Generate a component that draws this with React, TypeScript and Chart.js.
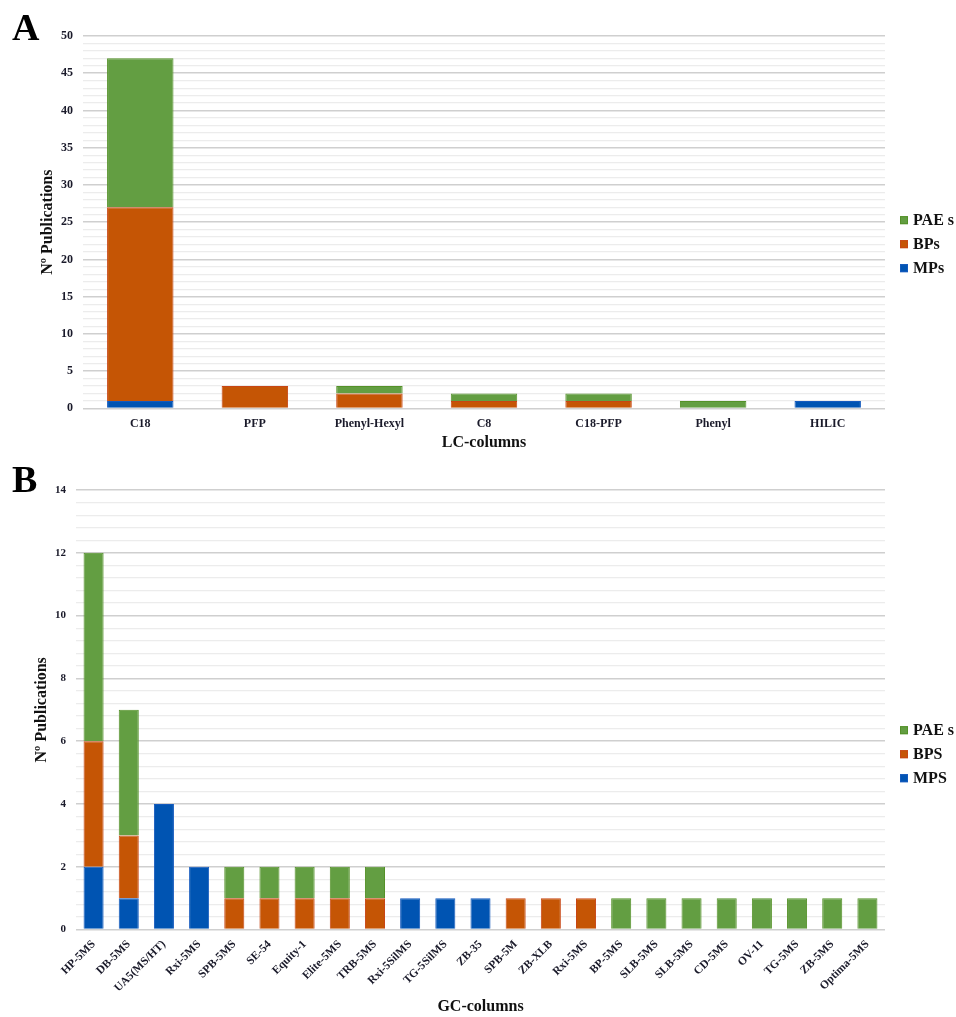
import React, { useEffect, useRef } from "react";
import { Chart, registerables } from "chart.js";

Chart.register(...registerables);

// ---- Panel A data (LC columns) ----
const lcColumns = ["C18", "PFP", "Phenyl-Hexyl", "C8", "C18-PFP", "Phenyl", "HILIC"];
const lcMPs = [1, 0, 0, 0, 0, 0, 1];
const lcBPs = [26, 3, 2, 1, 1, 0, 0];
const lcPAEs = [20, 0, 1, 1, 1, 1, 0];

// ---- Panel B data (GC columns) ----
const gcColumns = [
  "HP-5MS", "DB-5MS", "UA5(MS/HT)", "Rxi-5MS", "SPB-5MS", "SE-54", "Equity-1", "Elite-5MS",
  "TRB-5MS", "Rxi-5SilMS", "TG-5SilMS", "ZB-35", "SPB-5M", "ZB-XLB", "Rxi-5MS", "BP-5MS",
  "SLB-5MS", "SLB-5MS", "CD-5MS", "OV-11", "TG-5MS", "ZB-5MS", "Optima-5MS",
];
const gcMPS = [2, 1, 4, 2, 0, 0, 0, 0, 0, 1, 1, 1, 0, 0, 0, 0, 0, 0, 0, 0, 0, 0, 0];
const gcBPS = [4, 2, 0, 0, 1, 1, 1, 1, 1, 0, 0, 0, 1, 1, 1, 0, 0, 0, 0, 0, 0, 0, 0];
const gcPAEs = [6, 4, 0, 0, 1, 1, 1, 1, 1, 0, 0, 0, 0, 0, 0, 1, 1, 1, 1, 1, 1, 1, 1];

const GREEN = "rgb(99,158,66)";
const GREEN_B = "rgb(84,145,40)";
const ORANGE = "rgb(197,85,5)";
const ORANGE_B = "rgb(200,70,20)";
const BLUE = "rgb(0,84,178)";
const BLUE_B = "rgb(20,90,190)";
const SERIF = "'Liberation Serif', 'DejaVu Serif', serif";

// Legend drawn at the right of the plot, items in reverse dataset order.
const sideLegend = {
  id: "sideLegend",
  afterDraw(chart: any, _args: any, opts: any) {
    const { ctx, chartArea } = chart;
    const items = chart.data.datasets.map((d: any) => d).reverse();
    const cy = chartArea.top + opts.frac * (chartArea.bottom - chartArea.top);
    const gap = 24;
    const x0 = chartArea.right + 15;
    ctx.save();
    ctx.font = `bold 16px ${SERIF}`;
    ctx.textBaseline = "middle";
    items.forEach((d: any, i: number) => {
      const y = cy + (i - (items.length - 1) / 2) * gap;
      ctx.fillStyle = d.backgroundColor;
      ctx.fillRect(x0, y - 4, 8, 8);
      ctx.strokeStyle = d.borderColor;
      ctx.lineWidth = 1;
      ctx.strokeRect(x0 + 0.5, y - 3.5, 7, 7);
      ctx.fillStyle = "#111";
      ctx.fillText(d.label, x0 + 13, y + 1);
    });
    ctx.restore();
  },
};

function makeConfig(
  labels: string[],
  mp: number[],
  bp: number[],
  pae: number[],
  names: [string, string, string],
  opts: {
    max: number; step: number; major: number; xTitle: string; rotate: boolean;
    yWidth: number; padLeft: number; padTop: number; barPct: number; tickSize: number;
    xTickSize: number; legendFrac: number;
  }
): any {
  const isMajor = (v: number) => Math.abs(v / opts.major - Math.round(v / opts.major)) < 1e-6;
  return {
    type: "bar",
    plugins: [sideLegend],
    data: {
      labels,
      datasets: [
        { label: names[2], data: mp, backgroundColor: BLUE, borderColor: BLUE_B, borderWidth: 1 },
        { label: names[1], data: bp, backgroundColor: ORANGE, borderColor: ORANGE_B, borderWidth: 1 },
        { label: names[0], data: pae, backgroundColor: GREEN, borderColor: GREEN_B, borderWidth: 1 },
      ],
    },
    options: {
      animation: false,
      responsive: false,
      maintainAspectRatio: false,
      layout: { padding: { top: opts.padTop, left: opts.padLeft, right: 71, bottom: 0 } },
      datasets: { bar: { barPercentage: opts.barPct, categoryPercentage: 1 } },
      plugins: {
        tooltip: { enabled: false },
        legend: { display: false },
        sideLegend: { frac: opts.legendFrac },
      },
      scales: {
        x: {
          stacked: true,
          grid: { display: false },
          border: { display: false },
          ticks: {
            color: "#1a1a2a",
            font: { family: SERIF, size: opts.xTickSize, weight: "bold" },
            maxRotation: opts.rotate ? 45 : 0,
            minRotation: opts.rotate ? 45 : 0,
            autoSkip: false,
            padding: 0,
          },
          title: {
            display: true,
            text: opts.xTitle,
            color: "#111",
            font: { family: SERIF, size: 16, weight: "bold" },
            padding: { top: 2, bottom: 0 },
          },
        },
        y: {
          stacked: true,
          min: 0,
          max: opts.max,
          afterFit: (s: any) => {
            s.width = opts.yWidth;
          },
          border: { display: false },
          grid: {
            drawTicks: false,
            color: (ctx: any) => (isMajor(ctx.tick.value) ? "#cfcfcf" : "#ececec"),
            lineWidth: (ctx: any) => (isMajor(ctx.tick.value) ? 1.5 : 1.2),
          },
          ticks: {
            stepSize: opts.step,
            padding: 10,
            color: "#1a1a2a",
            font: { family: SERIF, size: opts.tickSize, weight: "bold" },
            callback: (v: any) => (isMajor(Number(v)) ? String(Math.round(Number(v))) : ""),
            autoSkip: false,
          },
          title: {
            display: true,
            text: "Nº Publications",
            color: "#111",
            font: { family: SERIF, size: 16, weight: "bold" },
            padding: 0,
          },
        },
      },
    },
  };
}

export default function App() {
  const refA = useRef<HTMLCanvasElement>(null);
  const refB = useRef<HTMLCanvasElement>(null);

  useEffect(() => {
    document.body.style.margin = "0";
    const a = new Chart(
      refA.current!,
      makeConfig(lcColumns, lcMPs, lcBPs, lcPAEs, ["PAE s", "BPs", "MPs"], {
        max: 50, step: 1, major: 5, xTitle: "LC-columns", rotate: false,
        yWidth: 45, padLeft: 38, padTop: 36, barPct: 0.58, tickSize: 12, xTickSize: 12, legendFrac: 0.559,
      })
    );
    const b = new Chart(
      refB.current!,
      makeConfig(gcColumns, gcMPS, gcBPS, gcPAEs, ["PAE s", "BPS", "MPS"], {
        max: 14, step: 0.4, major: 2, xTitle: "GC-columns", rotate: true,
        yWidth: 44, padLeft: 32, padTop: 30, barPct: 0.57, tickSize: 11, xTickSize: 11.5, legendFrac: 0.601,
      })
    );
    return () => {
      a.destroy();
      b.destroy();
    };
  }, []);

  const letter: React.CSSProperties = {
    position: "absolute",
    left: 12,
    fontFamily: SERIF,
    fontWeight: "bold",
    fontSize: 38,
    lineHeight: 1,
    color: "#000",
  };

  return (
    <div style={{ position: "relative", width: 956, height: 1017, background: "#fff", overflow: "hidden" }}>
      <canvas ref={refA} width={956} height={452} style={{ position: "absolute", left: 0, top: 0 }} />
      <canvas ref={refB} width={956} height={556} style={{ position: "absolute", left: 0, top: 460 }} />
      <div style={{ ...letter, top: 8 }}>A</div>
      <div style={{ ...letter, top: 460 }}>B</div>
    </div>
  );
}
